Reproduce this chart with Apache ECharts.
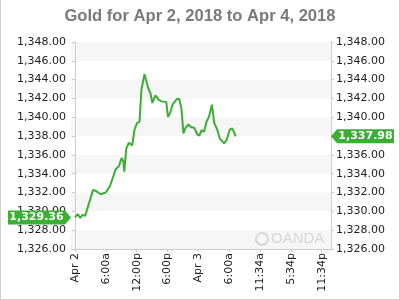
<!DOCTYPE html>
<html>
<head>
<meta charset="utf-8">
<script src="https://cdn.jsdelivr.net/npm/echarts@6/dist/echarts.min.js"></script>
<style>
html,body{margin:0;padding:0;background:#fff;}
#c{width:400px;height:300px;box-sizing:border-box;border-left:1px solid #cfcfcf;border-right:1px solid #cfcfcf;border-bottom:1px solid #cfcfcf;}
</style>
</head>
<body>
<div id="c"></div>
<script>
// Hours since Apr 2, 2018 00:00 (axis slots are 6 hours each)
const times = [0,0.52,1.02,1.49,1.99,2.57,3.53,4.05,5.02,5.98,6.81,7.92,8.55,9.07,9.40,9.59,9.98,10.48,11.14,11.58,12.10,12.55,12.93,13.51,13.84,14.23,14.67,15.06,15.64,16.27,16.80,17.76,18.09,18.53,18.98,19.83,20.27,20.71,21.10,21.49,22.07,22.59,23.22,23.80,24.19,24.65,25.10,25.62,26.06,26.64,27.08,27.66,28.19,29.02,29.48,30.12,30.64,31.27];
const prices = [1329.36,1329.70,1329.31,1329.63,1329.52,1330.58,1332.28,1332.17,1331.82,1332.00,1332.70,1334.47,1334.81,1335.66,1335.34,1334.22,1336.66,1337.29,1337.01,1338.70,1339.41,1339.51,1342.93,1344.59,1344.52,1343.11,1342.58,1341.52,1342.33,1341.87,1341.69,1341.63,1340.04,1340.47,1341.34,1341.95,1341.98,1340.89,1338.28,1338.88,1339.23,1338.94,1338.88,1338.17,1338.06,1338.62,1338.46,1339.58,1340.04,1341.34,1339.41,1338.70,1337.71,1337.22,1337.57,1338.70,1338.80,1337.98];
const xTickValues = [0,6,12,18,24,30,36,42,48];
const xTickLabels = ['Apr 2','6:00a','12:00p','6:00p','Apr 3','6:00a','11:34a','5:34p','11:34p'];
const yTicks = [1326,1328,1330,1332,1334,1336,1338,1340,1342,1344,1346,1348];
const titleText = 'Gold for Apr 2, 2018 to Apr 4, 2018';
const watermarkText = 'OANDA';

const GREEN = '#3cae36';
const LABEL_FONT = 'DejaVu Sans';
function fmt(v){
  const s = v.toFixed(2);
  const parts = s.split('.');
  const ip = parts[0].replace(/\B(?=(\d{3})+(?!\d))/g, ',');
  return ip + '.' + parts[1];
}

const chart = echarts.init(document.getElementById('c'), null, {renderer:'canvas'});
const yMin = yTicks[0], yMax = yTicks[yTicks.length-1];
const xMin = -0.77, xMax = 49.8;

function yAxisCfg(pos, withArea){
  return {
    type:'value', position:pos, min:yMin, max:yMax, interval:2,
    axisLine:{show:true, lineStyle:{color:'#cccccc', width:1}},
    axisTick:{show:true, length:3, lineStyle:{color:'#cccccc'}},
    axisLabel:{color:'#222', fontSize:11, fontFamily:LABEL_FONT, margin:5, formatter:v=>fmt(v)},
    splitLine:{show:false},
    splitArea:{show:withArea, areaStyle:{color:['#f6f6f6','#ffffff']}}
  };
}

chart.setOption({
  animation:false,
  title:{text:titleText, left:'center', top:3,
    textStyle:{color:'#7a7a7a', fontSize:16.6, fontWeight:'bold', fontFamily:'Liberation Sans'}},
  grid:{left:70, right:68, top:42, bottom:50, containLabel:false},
  xAxis:{
    type:'value', min:xMin, max:xMax,
    axisLine:{show:true, onZero:false, lineStyle:{color:'#cccccc'}},
    axisTick:{show:true, length:3, lineStyle:{color:'#cccccc'}, customValues:xTickValues},
    axisLabel:{rotate:90, color:'#222', fontSize:11, fontFamily:LABEL_FONT, margin:4,
      customValues:xTickValues,
      formatter:v=>{const i = xTickValues.indexOf(Math.round(v)); return i>=0?xTickLabels[i]:'';}},
    splitLine:{show:false}
  },
  yAxis:[yAxisCfg('left', true), yAxisCfg('right', false)],
  series:[{
    type:'line', data:times.map((t,i)=>[t,prices[i]]), showSymbol:false,
    lineStyle:{color:GREEN, width:2}, smooth:false
  }]
});

function addTags(){
  const first = prices[0], last = prices[prices.length-1];
  const yL = chart.convertToPixel({yAxisIndex:0}, first);
  const yR = chart.convertToPixel({yAxisIndex:1}, last);
  const xL = chart.convertToPixel({xAxisIndex:0}, xMin);
  const xR = chart.convertToPixel({xAxisIndex:0}, xMax);
  const h = 7;
  chart.setOption({graphic:[
    {type:'polygon', shape:{points:[[7,yL-h],[xL-6,yL-h],[xL,yL],[xL-6,yL+h],[7,yL+h]]}, style:{fill:GREEN}, z:100},
    {type:'text', x:(7+xL-6)/2, y:yL, style:{text:fmt(first), fill:'#fff', font:'bold 11px "DejaVu Sans"', align:'center', verticalAlign:'middle'}, z:101},
    {type:'polygon', shape:{points:[[xR,yR],[xR+6,yR-h],[393,yR-h],[393,yR+h],[xR+6,yR+h]]}, style:{fill:GREEN}, z:100},
    {type:'text', x:(xR+6+393)/2, y:yR, style:{text:fmt(last), fill:'#fff', font:'bold 11px "DejaVu Sans"', align:'center', verticalAlign:'middle'}, z:101},
    {type:'circle', shape:{cx:261, cy:239, r:6}, style:{fill:'none', stroke:'#d6d6d6', lineWidth:2}, z:50},
    {type:'text', x:270, y:239, style:{text:watermarkText, fill:'#d6d6d6', font:'15px "Liberation Sans"', verticalAlign:'middle'}, z:50}
  ]});
}
addTags();
</script>
</body>
</html>
